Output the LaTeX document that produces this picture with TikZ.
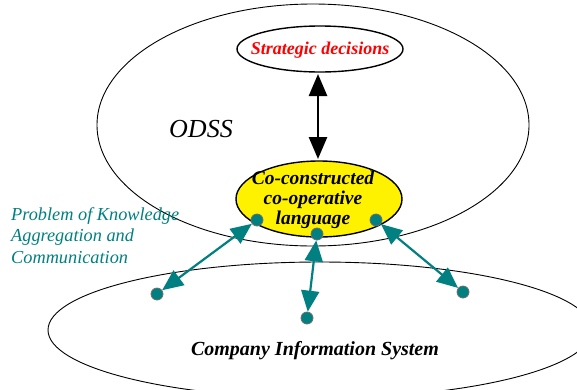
\documentclass[tikz,border=0pt]{standalone}
\usepackage{fontspec}
\setmainfont{Liberation Serif}
\usetikzlibrary{arrows.meta}
\definecolor{tealc}{RGB}{0,128,128}
\definecolor{dotedge}{RGB}{110,110,110}
\tikzset{
  bigoval/.style={draw=black, line width=0.9pt},
  port/.style={circle, fill=tealc, draw=dotedge, line width=0.8pt, minimum size=12pt, inner sep=0pt},
  link/.style={draw=tealc, line width=2.2pt, {Triangle[length=21pt,width=18pt]}-{Triangle[length=21pt,width=18pt]}},
  biglink/.style={draw=black, line width=2.6pt, {Triangle[length=22pt,width=18pt]}-{Triangle[length=22pt,width=18pt]}}
}
\begin{document}
\begin{tikzpicture}[x=1pt,y=-1pt]
\useasboundingbox (0,0) rectangle (577,389);
\clip (0,0) rectangle (577,389);
\fill[white] (0,0) rectangle (577,389);
% outer system ellipses
\draw[bigoval] (313,125) ellipse [x radius=216, y radius=121];
\draw[bigoval] (320,330) ellipse [x radius=272, y radius=68];
% inner ellipses
\draw[line width=1.4pt] (320,49) ellipse [x radius=83, y radius=23];
\coordinate (sdb) at (318,74);
\fill[yellow] (319,199) ellipse [x radius=83, y radius=38];
\draw[line width=1.4pt] (319,199) ellipse [x radius=83, y radius=38];
\coordinate (lgt) at (318,159);
\node[text=red, font=\fontsize{18}{21}\selectfont\bfseries\itshape] (sdt) at (320,50) {Strategic decisions};
\node[align=center, font=\fontsize{19.5}{20}\selectfont\bfseries\itshape] (lang) at (313,200) {Co-constructed\\co-operative\\language};
\draw[biglink] (sdb) -- (lgt);
% labels
\node[font=\fontsize{26}{30}\selectfont\itshape] (odss) at (201,129) {ODSS};
\node[anchor=north west, align=left, text=tealc, inner sep=0pt, font=\fontsize{18.3}{21.5}\selectfont\itshape] (prob) at (11,207) {Problem of Knowledge\\Aggregation and\\Communication};
\node[font=\fontsize{20}{23}\selectfont\bfseries\itshape] (cis) at (315,351) {Company Information System};
% connection points
\node[port] (p1) at (257,220) {};
\node[port] (p2) at (317,234) {};
\node[port] (p3) at (376,220) {};
\node[port] (q1) at (157,294) {};
\node[port] (q2) at (307,318) {};
\node[port] (q3) at (463,292) {};
\draw[link] (p1) -- (q1);
\draw[link] (p2) -- (q2);
\draw[link] (p3) -- (q3);
\end{tikzpicture}
\end{document}
